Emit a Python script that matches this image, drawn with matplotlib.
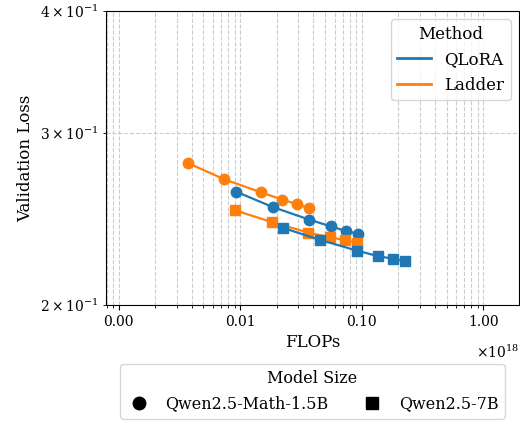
import numpy as np
import matplotlib
matplotlib.use("Agg")
import matplotlib.pyplot as plt
from matplotlib.lines import Line2D
from matplotlib.ticker import FormatStrFormatter

plt.rcParams["font.family"] = "DejaVu Serif"
plt.rcParams["mathtext.fontset"] = "dejavuserif"

# FLOPs in units of 1e18, validation loss
ladder_small_x = [0.0037, 0.0074, 0.0148, 0.0222, 0.0296, 0.037]
ladder_small_y = [0.2796, 0.2690, 0.2609, 0.2564, 0.2536, 0.2513]
qlora_small_x = [0.00925, 0.0185, 0.037, 0.0555, 0.074, 0.0925]
qlora_small_y = [0.2613, 0.2520, 0.2446, 0.2408, 0.2381, 0.2367]
ladder_large_x = [0.0091, 0.0182, 0.0364, 0.0546, 0.0728, 0.091]
ladder_large_y = [0.2500, 0.2432, 0.2372, 0.2347, 0.2330, 0.2317]
qlora_large_x = [0.0227, 0.0454, 0.091, 0.1365, 0.182, 0.227]
qlora_large_y = [0.2398, 0.2332, 0.2274, 0.2244, 0.2230, 0.2217]

methods = ["QLoRA", "Ladder"]
model_sizes = ["Qwen2.5-Math-1.5B", "Qwen2.5-7B"]

blue = "#1f77b4"
orange = "#ff7f0e"

fig = plt.figure(figsize=(5.2, 4.23), dpi=100)
ax = fig.add_axes([0.204, 0.279, 0.794, 0.695])

ax.plot(ladder_small_x, ladder_small_y, "-o", color=orange, ms=7.5, lw=1.6)
ax.plot(qlora_small_x, qlora_small_y, "-o", color=blue, ms=7.5, lw=1.6)
ax.plot(ladder_large_x, ladder_large_y, "-s", color=orange, ms=7.5, lw=1.6)
ax.plot(qlora_large_x, qlora_large_y, "-s", color=blue, ms=7.5, lw=1.6)

ax.set_xscale("log")
ax.set_yscale("log")
ax.set_xlim(7.9e-4, 1.97)
ax.set_ylim(0.2, 0.4)
ax.xaxis.set_major_formatter(FormatStrFormatter("%.2f"))
ax.tick_params(labelsize=10)
ax.grid(True, which="both", ls="--", color="#cccccc", lw=0.8)

ax.set_xlabel("FLOPs", fontsize=12)
ax.set_ylabel("Validation Loss", fontsize=12)
ax.text(1.0, -0.16, r"$\times10^{18}$", transform=ax.transAxes,
        ha="right", va="center", fontsize=10)

method_handles = [Line2D([], [], color=blue, lw=2),
                  Line2D([], [], color=orange, lw=2)]
leg1 = ax.legend(method_handles, methods, title="Method", loc="upper right",
                 fontsize=12, title_fontsize=12)
ax.add_artist(leg1)

size_handles = [Line2D([], [], color="black", marker="o", ls="", ms=9),
                Line2D([], [], color="black", marker="s", ls="", ms=9)]
ax.legend(size_handles, model_sizes, title="Model Size", loc="upper center",
          bbox_to_anchor=(0.5, -0.173), ncol=2, fontsize=11.5, title_fontsize=11.5,
          handlelength=1.5, handletextpad=0.9, columnspacing=2.0)

fig.savefig("out.png", dpi=100)
